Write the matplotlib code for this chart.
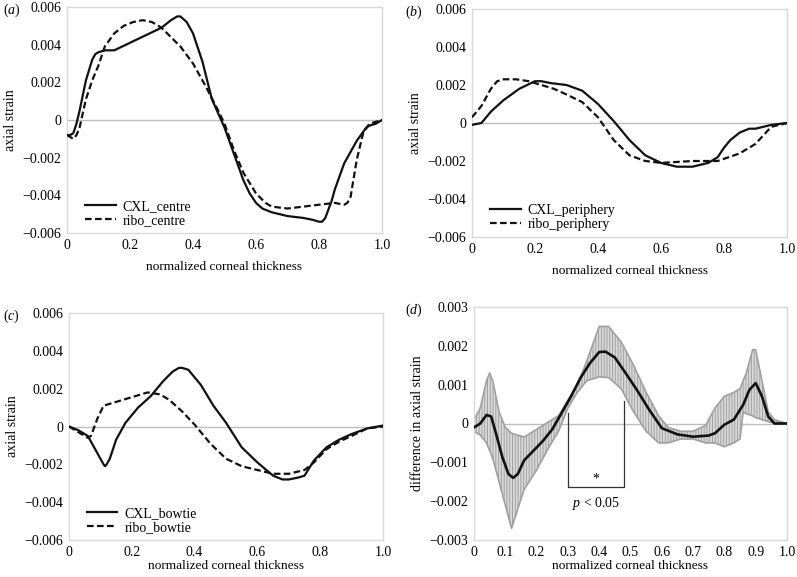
import matplotlib
matplotlib.use("Agg")
import matplotlib.pyplot as plt
import numpy as np

plt.rcParams['font.family'] = ['Liberation Serif', 'DejaVu Serif']
plt.rcParams['mathtext.fontset'] = 'custom'
plt.rcParams['mathtext.it'] = 'Liberation Serif:italic'
plt.rcParams['mathtext.rm'] = 'Liberation Serif'
plt.rcParams['hatch.color'] = '#a0a0a0'
plt.rcParams['hatch.linewidth'] = 0.7

# ---------------- data ----------------
# (a) centre
a_cxl_x = [0, 0.01, 0.02, 0.03, 0.04, 0.06, 0.08, 0.09, 0.1, 0.12, 0.15, 0.2, 0.25, 0.3, 0.33,
           0.35, 0.36, 0.38, 0.4, 0.43, 0.46, 0.5, 0.53, 0.56, 0.58, 0.6, 0.62, 0.65, 0.7, 0.75,
           0.78, 0.8, 0.81, 0.82, 0.84, 0.85, 0.88, 0.92, 0.95, 0.96, 0.98, 1.0]
a_cxl_y = [-0.0008, -0.0008, -0.0007, -0.0002, 0.0005, 0.0021, 0.0032, 0.0035, 0.0036, 0.0037,
           0.0037, 0.0041, 0.0045, 0.0049, 0.0053, 0.0055, 0.0055, 0.0052, 0.0046, 0.0031,
           0.0011, -0.0004, -0.0018, -0.0032, -0.0039, -0.0044, -0.0047, -0.0049, -0.0051,
           -0.0052, -0.0053, -0.0054, -0.0054, -0.0052, -0.0043, -0.0037, -0.0023, -0.0011,
           -0.0004, -0.0003, -0.0002, 0.0]
a_ribo_x = [0, 0.01, 0.02, 0.03, 0.04, 0.06, 0.08, 0.1, 0.12, 0.15, 0.18, 0.21, 0.24, 0.27, 0.3,
            0.33, 0.36, 0.4, 0.44, 0.48, 0.5, 0.53, 0.56, 0.6, 0.63, 0.65, 0.7, 0.75, 0.8,
            0.85, 0.88, 0.89, 0.9, 0.92, 0.94, 0.96, 1.0]
a_ribo_y = [-0.0008, -0.0009, -0.0010, -0.0008, -0.0004, 0.0011, 0.0021, 0.0029, 0.0039,
            0.0046, 0.0050, 0.0052, 0.0053, 0.0052, 0.0049, 0.0044, 0.0039, 0.0030, 0.0018,
            0.0005, -0.0002, -0.0016, -0.0028, -0.0039, -0.0044, -0.0046, -0.0047, -0.0046,
            -0.0045, -0.0044, -0.0045, -0.0044, -0.0041, -0.0021, -0.0007, -0.0002, 0.0]

# (b) periphery
b_cxl_x = [0, 0.03, 0.06, 0.1, 0.15, 0.2, 0.22, 0.25, 0.3, 0.35, 0.4, 0.45, 0.5, 0.55, 0.6,
           0.65, 0.7, 0.75, 0.78, 0.8, 0.82, 0.85, 0.88, 0.9, 0.95, 1.0]
b_cxl_y = [-0.0001, 0.0, 0.0006, 0.0012, 0.0018, 0.0022, 0.0022, 0.0021, 0.0020, 0.0017, 0.0010,
           0.0001, -0.0009, -0.0017, -0.0021, -0.0023, -0.0023, -0.0021, -0.0018, -0.0013,
           -0.0009, -0.0005, -0.0003, -0.0003, -0.0001, 0.0]
b_ribo_x = [0, 0.03, 0.06, 0.08, 0.1, 0.14, 0.18, 0.22, 0.26, 0.3, 0.35, 0.4, 0.45, 0.5, 0.55,
            0.6, 0.7, 0.78, 0.85, 0.9, 0.95, 1.0]
b_ribo_y = [0.0003, 0.0009, 0.0018, 0.0022, 0.0023, 0.0023, 0.0022, 0.0020, 0.0018, 0.0015,
            0.0011, 0.0003, -0.0009, -0.0017, -0.0020, -0.0021, -0.0020, -0.0020, -0.0016,
            -0.0011, -0.0002, 0.0]

# (c) bowtie
c_cxl_x = [0, 0.03, 0.06, 0.08, 0.1, 0.11, 0.115, 0.12, 0.13, 0.15, 0.18, 0.22, 0.26, 0.3, 0.33,
           0.35, 0.36, 0.38, 0.42, 0.46, 0.5, 0.55, 0.6, 0.65, 0.68, 0.7, 0.73, 0.75, 0.78,
           0.82, 0.86, 0.9, 0.95, 1.0]
c_cxl_y = [0.0, -0.0002, -0.0005, -0.0011, -0.0017, -0.0020, -0.0021, -0.0020, -0.0017, -0.0007,
           0.0002, 0.0010, 0.0016, 0.0024, 0.0029, 0.0031, 0.0031, 0.0030, 0.0022, 0.0011,
           0.0002, -0.0011, -0.0019, -0.0026, -0.0028, -0.0028, -0.0027, -0.0026, -0.0018,
           -0.0011, -0.0007, -0.0004, -0.0001, 0.00005]
c_ribo_x = [0, 0.03, 0.06, 0.07, 0.09, 0.11, 0.13, 0.17, 0.21, 0.25, 0.29, 0.32, 0.36, 0.4, 0.45,
            0.5, 0.55, 0.6, 0.65, 0.7, 0.75, 0.78, 0.82, 0.86, 0.9, 0.95, 1.0]
c_ribo_y = [0.0, -0.0003, -0.0006, -0.0005, 0.0004, 0.0011, 0.0012, 0.0014, 0.0016, 0.0018,
            0.0017, 0.0014, 0.0008, 0.0001, -0.0009, -0.0017, -0.0021, -0.0023, -0.0025,
            -0.0025, -0.0023, -0.0019, -0.0012, -0.0008, -0.0005, -0.0001, 0.0]

# (d) difference (mean, upper / lower band)
d_mean_x = [0, 0.02, 0.04, 0.055, 0.07, 0.09, 0.11, 0.125, 0.14, 0.16, 0.19, 0.22, 0.25, 0.28,
            0.31, 0.34, 0.37, 0.4, 0.42, 0.45, 0.48, 0.52, 0.56, 0.6, 0.65, 0.7, 0.75, 0.77, 0.8,
            0.83, 0.86, 0.88, 0.9, 0.92, 0.94, 0.96, 1.0]
d_mean_y = [-0.0001, 0.0, 0.00022, 0.00018, -0.00025, -0.00085, -0.0013, -0.0014, -0.0013,
            -0.00095, -0.0007, -0.00045, -0.00015, 0.00027, 0.0007, 0.00117, 0.00155, 0.00184,
            0.00185, 0.0017, 0.00135, 0.00087, 0.00035, -0.00012, -0.00028, -0.00034, -0.00031,
            -0.00025, -0.00003, 0.0001, 0.00048, 0.00087, 0.00104, 0.0007, 0.00018, 0.0, 0.0]
d_band_x = [0, 0.02, 0.04, 0.05, 0.06, 0.08, 0.1, 0.12, 0.14, 0.16, 0.2, 0.24, 0.27, 0.3, 0.33,
            0.36, 0.4, 0.43, 0.47, 0.51, 0.55, 0.59, 0.62, 0.66, 0.7, 0.74, 0.77, 0.8, 0.83, 0.85,
            0.86, 0.87, 0.89, 0.9, 0.92, 0.94, 0.96, 1.0]
d_upper = [0.0001, 0.0004, 0.0011, 0.0013, 0.0011, 0.0003, -0.0001, -0.00025, -0.0003, -0.00035,
           -0.00015, 0.00005, 0.0002, 0.0006, 0.0010, 0.0016, 0.0025, 0.0025, 0.0021, 0.0015,
           0.0008, 0.0002, -0.0001, -0.0002, -0.0002, -0.00005, 0.0004, 0.0007, 0.0008, 0.0009,
           0.0011, 0.0013, 0.0019, 0.0019, 0.0011, 0.0003, 0.0001, 0.0]
d_lower = [-0.0002, -0.0003, -0.0005, -0.0007, -0.0009, -0.0015, -0.0021, -0.0027, -0.0022,
           -0.0017, -0.0012, -0.0006, -0.0002, 0.0004, 0.0008, 0.0011, 0.0012, 0.00118, 0.0009,
           0.0003, -0.0002, -0.0005, -0.0005, -0.0004, -0.0004, -0.0005, -0.0005, -0.0006,
           -0.0005, -0.0004, 0.0003, 0.00025, 0.0002, 0.00015, 0.0001, 0.00005, 0.0, 0.0]

# significance bracket (d)
sig_x = [0.3, 0.48]
sig_top = [0.00028, 0.00058]
sig_bottom = -0.00163

xticks_main = [0, 0.2, 0.4, 0.6, 0.8, 1.0]
xticklabels_main = ['0', '0.2', '0.4', '0.6', '0.8', '1.0']
yticks_main = [-0.006, -0.004, -0.002, 0, 0.002, 0.004, 0.006]
yticklabels_main = ['\u22120.006', '\u22120.004', '\u22120.002', '0', '0.002', '0.004', '0.006']
xticks_d = [0, 0.1, 0.2, 0.3, 0.4, 0.5, 0.6, 0.7, 0.8, 0.9, 1.0]
xticklabels_d = ['0', '0.1', '0.2', '0.3', '0.4', '0.5', '0.6', '0.7', '0.8', '0.9', '1.0']
yticks_d = [-0.003, -0.002, -0.001, 0, 0.001, 0.002, 0.003]
yticklabels_d = ['\u22120.003', '\u22120.002', '\u22120.001', '0', '0.001', '0.002', '0.003']

# ---------------- figure ----------------
W, H = 797, 577
fig = plt.figure(figsize=(W / 100, H / 100), dpi=100)

def rect(l, r, t, b):
    return [l / W, 1 - b / H, (r - l) / W, (b - t) / H]

ax_a = fig.add_axes(rect(67, 382, 7, 233))
ax_b = fig.add_axes(rect(472, 787, 9, 237))
ax_c = fig.add_axes(rect(69, 383, 313, 540))
ax_d = fig.add_axes(rect(474, 787, 307, 540))

FS = 10
frame_col = '#d9d9d9'

def style(ax, xt, xtl, yt, ytl, ylim, ylabel, xlabelpad):
    ax.set_xlim(0, 1.0)
    ax.set_ylim(*ylim)
    ax.set_xticks(xt)
    ax.set_xticklabels(xtl, fontsize=FS)
    ax.set_yticks(yt)
    ax.set_yticklabels(ytl, fontsize=FS)
    ax.tick_params(length=0, pad=4)
    for s in ax.spines.values():
        s.set_color(frame_col)
        s.set_linewidth(1.0)
    ax.axhline(0, color='#bdbdbd', lw=1.0, zorder=1)
    ax.set_xlabel('normalized corneal thickness', fontsize=9.6, labelpad=xlabelpad)
    ax.set_ylabel(ylabel, fontsize=FS, labelpad=4)

lw = 1.6
for ax, pad, (cx, cy, rx, ry, l1, l2) in zip(
        [ax_a, ax_b, ax_c], [7, 7, 1],
        [(a_cxl_x, a_cxl_y, a_ribo_x, a_ribo_y, 'CXL_centre', 'ribo_centre'),
         (b_cxl_x, b_cxl_y, b_ribo_x, b_ribo_y, 'CXL_periphery', 'ribo_periphery'),
         (c_cxl_x, c_cxl_y, c_ribo_x, c_ribo_y, 'CXL_bowtie', 'ribo_bowtie')]):
    style(ax, xticks_main, xticklabels_main, yticks_main, yticklabels_main,
          (-0.006, 0.006), 'axial strain', pad)
    ax.plot(cx, cy, color='#111111', lw=lw, label=l1, zorder=3)
    ax.plot(rx, ry, color='#111111', lw=lw, ls=(0, (3.0, 1.5)), label=l2, zorder=3)
    ax.legend(loc='lower left', bbox_to_anchor=(0.035, -0.005), frameon=False, fontsize=FS,
              handlelength=2.2, handletextpad=0.5, labelspacing=0.1, borderaxespad=0.1)

# (d)
style(ax_d, xticks_d, xticklabels_d, yticks_d, yticklabels_d, (-0.003, 0.003),
      'difference in axial strain', 1)
ax_d.fill_between(d_band_x, d_lower, d_upper, facecolor='#d9d9d9', edgecolor='#a0a0a0',
                  hatch='||||||', linewidth=0, zorder=2)
ax_d.plot(d_band_x, d_upper, color='#a0a0a0', lw=1.2, zorder=2)
ax_d.plot(d_band_x, d_lower, color='#a0a0a0', lw=1.2, zorder=2)
ax_d.plot(d_mean_x, d_mean_y, color='#111111', lw=1.9, zorder=3)
ax_d.plot([sig_x[0], sig_x[0], sig_x[1], sig_x[1]],
          [sig_top[0], sig_bottom, sig_bottom, sig_top[1]], color='#333333', lw=0.9, zorder=4)
ax_d.text(sum(sig_x) / 2, sig_bottom + 0.00003, '*', ha='center', va='bottom', fontsize=FS)
ax_d.text(sum(sig_x) / 2, sig_bottom - 0.0002, r'$p$ < 0.05', ha='center', va='top', fontsize=FS)

# panel labels
for txt, (px, py) in zip([r'($a$)', r'($b$)', r'($c$)', r'($d$)'],
                         [(3, 10), (405, 12), (3, 316), (405, 310)]):
    fig.text(px / W, 1 - py / H, txt, fontsize=FS, ha='left', va='center')

fig.savefig('out.png', dpi=100)
